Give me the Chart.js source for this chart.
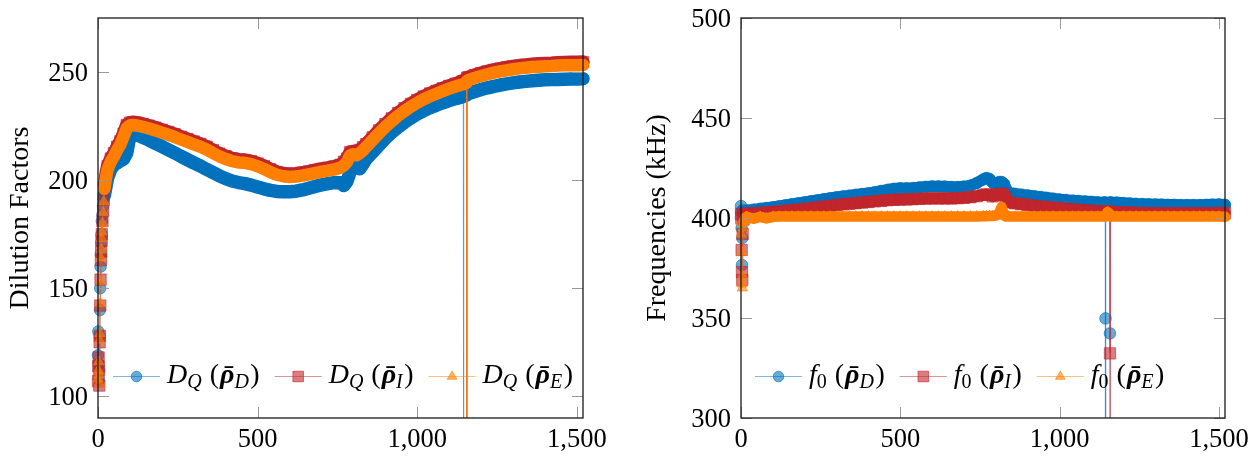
<!DOCTYPE html>
<html>
<head>
<meta charset="utf-8">
<script src="https://cdn.jsdelivr.net/npm/chart.js@4.4.1/dist/chart.umd.min.js"></script>
<style>
  html, body { margin: 0; padding: 0; background: #fff; }
  #wrap { position: relative; width: 1260px; height: 461px; overflow: hidden; }
  #left { position: absolute; left: 0; top: 0; }
  #right { position: absolute; left: 620px; top: 0; }
</style>
</head>
<body>
<div id="wrap">
  <canvas id="left" width="620" height="461"></canvas>
  <canvas id="right" width="640" height="461"></canvas>
</div>
<script>
// ---- left panel: dilution factors ----
const leftX = [
  0, 1, 2, 3, 4, 5, 6, 7, 8, 9,
  10, 11, 12, 14, 16, 18, 20, 25, 30, 40,
  50, 60, 70, 80, 90, 100, 110, 120, 140, 160,
  180, 200, 220, 240, 260, 280, 300, 320, 340, 360,
  380, 400, 420, 440, 460, 480, 500, 520, 540, 560,
  580, 600, 620, 640, 660, 680, 700, 720, 740, 760,
  770, 780, 790, 800, 810, 820, 830, 840, 860, 880,
  900, 920, 940, 960, 980, 1000, 1020, 1040, 1060, 1080,
  1100, 1120, 1140, 1144, 1145, 1146, 1150, 1154, 1155, 1156,
  1160, 1180, 1200, 1220, 1240, 1260, 1280, 1300, 1320, 1340,
  1360, 1380, 1400, 1420, 1440, 1460, 1480, 1500, 1519
];
const leftD = [
  119, 130, 115, 108, 112, 128, 140, 150, 160, 166,
  171, 175, 181, 184, 188, 191, 193, 197, 201, 205,
  207, 208, 209, 209.8, 212.5, 220.5, 221.6, 221.2, 219.8, 218.5,
  217, 215.6, 214.1, 212.6, 211, 209.5, 208, 206.6, 205, 203.5,
  202, 200.7, 199.6, 198.9, 198.4, 197.7, 196.8, 196, 195.3, 194.8,
  194.6, 194.6, 194.9, 195.5, 196.3, 197.1, 197.8, 198.4, 198.9, 198.8,
  197.5, 199.5, 204, 207.5, 207, 205.3, 207.5, 209.8, 213, 216.2,
  219.3, 222.1, 224.6, 226.8, 228.8, 230.6, 232.1, 233.5, 234.7, 235.8,
  236.8, 237.7, 238.5, 238.8, 0, 239, 239.2, 239.4, 239.5, 239.6,
  240, 241, 241.9, 242.7, 243.4, 244, 244.5, 245, 245.4, 245.7,
  246, 246.2, 246.4, 246.5, 246.6, 246.7, 246.8, 246.8, 246.9
];
const leftI = [
  107, 114, 118, 112, 105, 125, 128, 142, 154, 163,
  167, 172, 175, 181, 186, 191, 197.5, 202.5, 206.5, 210,
  212.5, 215.5, 218, 221.5, 225.5, 226.6, 226.8, 226.6, 226, 225.2,
  224.3, 223.3, 222.3, 221.3, 220.1, 219, 217.9, 216.8, 215.5, 213.9,
  212.3, 211.1, 210.1, 209.5, 209.3, 208.7, 207.7, 206.5, 205, 203.8,
  203.1, 202.8, 203, 203.4, 204, 204.6, 205.2, 205.7, 206.3, 207.1,
  208.5, 210, 213, 213.3, 213, 214, 215.2, 216.7, 219.8, 223,
  225.9, 228.6, 231.1, 233.3, 235.3, 237.1, 238.7, 240.1, 241.3, 242.5,
  243.6, 244.6, 245.5, 245.7, 245.8, 245.8, 246.1, 246.3, 0, 247.3,
  247.6, 248.6, 249.5, 250.3, 251, 251.6, 252.1, 252.6, 253, 253.3,
  253.6, 253.8, 254, 254.1, 254.3, 254.4, 254.5, 254.5, 254.6
];
const leftE = [
  108, 112, 116, 110, 106, 126, 129, 143, 153, 164,
  168, 173, 176, 180, 185, 190, 196, 201, 205, 208.5,
  211, 214, 216.5, 220, 224, 225.3, 225.5, 225.3, 224.7, 223.9,
  223, 222, 221, 220, 218.8, 217.7, 216.6, 215.5, 214.2, 212.6,
  211, 209.8, 208.8, 208.2, 208, 207.4, 206.4, 205.2, 203.7, 202.5,
  201.8, 201.5, 201.7, 202.1, 202.7, 203.3, 203.9, 204.4, 205, 205.8,
  206.8, 208.5, 211.5, 212, 211.5, 212.5, 213.8, 215.4, 218.5, 221.7,
  224.6, 227.3, 229.8, 232, 234, 235.8, 237.4, 238.8, 240, 241.2,
  242.3, 243.3, 244.2, 244.4, 244.5, 244.5, 244.8, 245, 0, 246,
  246.3, 247.3, 248.2, 249, 249.7, 250.3, 250.8, 251.3, 251.7, 252,
  252.3, 252.5, 252.7, 252.8, 253, 253.1, 253.2, 253.2, 253.3
];

// ---- right panel: frequencies (kHz) ----
const rightX = [
  0, 1, 2, 3, 4, 5, 6, 8, 10, 12,
  14, 16, 18, 20, 40, 60, 80, 100, 120, 140,
  160, 180, 200, 220, 240, 260, 280, 300, 320, 340,
  360, 380, 400, 420, 440, 460, 480, 500, 520, 540,
  560, 580, 600, 620, 640, 660, 680, 700, 720, 740,
  760, 770, 780, 790, 800, 810, 818, 826, 830, 840,
  860, 880, 900, 920, 940, 960, 980, 1000, 1020, 1040,
  1060, 1080, 1100, 1120, 1140, 1143, 1144, 1145, 1150, 1157,
  1158, 1159, 1160, 1180, 1200, 1220, 1240, 1260, 1280, 1300,
  1320, 1340, 1360, 1380, 1400, 1420, 1440, 1460, 1480, 1500,
  1519
];
const rightD = [
  406, 403, 395, 376.5, 390, 404, 402.5, 399, 401, 402.5,
  403, 403.5, 403.6, 403.8, 404.2, 404.6, 405, 405.4, 405.9, 406.4,
  406.9, 407.4, 407.9, 408.4, 408.9, 409.4, 409.9, 410.4, 410.8, 411.2,
  411.6, 412, 412.4, 412.9, 413.5, 414.1, 414.6, 414.9, 414.9, 415,
  415.3, 415.6, 415.8, 415.8, 415.7, 415.5, 415.5, 415.7, 416.2, 417.5,
  419.3, 420, 419.5, 417.6, 417, 418, 418, 417, 415, 412.6,
  412.1, 411.7, 411.3, 410.9, 410.5, 410.1, 409.7, 409.3, 409, 408.7,
  408.5, 408.3, 408.1, 407.9, 407.8, 407.8, 349.8, 0, 0, 0,
  342.3, 407.8, 407.8, 407.7, 407.5, 407.3, 407.1, 407, 406.9, 406.8,
  406.7, 406.6, 406.6, 406.5, 406.5, 406.5, 406.5, 406.6, 406.7, 406.8,
  406.6
];
const rightI = [
  402, 400, 384, 373, 369, 392, 401, 399.5, 401, 401.5,
  401.8, 402, 402, 402.1, 402.3, 402.5, 402.8, 403, 403.3, 403.6,
  403.9, 404.2, 404.6, 404.9, 405.3, 405.7, 406.1, 406.5, 406.8, 407.1,
  407.4, 407.7, 408, 408.3, 408.6, 408.9, 409.1, 409.2, 409.3, 409.4,
  409.6, 409.7, 409.8, 409.8, 409.8, 409.8, 409.9, 410.1, 410.4, 410.9,
  411.5, 411.8, 411.6, 410.8, 411.5, 412, 412, 411.5, 410, 407.8,
  407.3, 406.9, 406.5, 406.1, 405.8, 405.5, 405.2, 404.9, 404.6, 404.3,
  404, 403.8, 403.6, 403.4, 403.2, 403.2, 403.2, 403.2, 403.1, 403.1,
  332.3, 0, 403, 402.9, 402.8, 402.7, 402.6, 402.5, 402.5, 402.4,
  402.4, 402.4, 402.4, 402.4, 402.4, 402.4, 402.4, 402.4, 402.4, 402.5,
  402.5
];
const rightE = [
  398, 392, 383, 367, 365, 371, 395, 397.5, 399.5, 399,
  400.3, 399.5, 400.5, 400.5, 399.6, 400.6, 399.8, 400.6, 400.7, 400.7,
  400.7, 400.7, 400.7, 400.7, 400.7, 400.7, 400.7, 400.7, 400.7, 400.7,
  400.7, 400.7, 400.7, 400.7, 400.7, 400.7, 400.7, 400.7, 400.7, 400.7,
  400.7, 400.7, 400.7, 400.7, 400.7, 400.7, 400.8, 400.8, 400.8, 400.8,
  400.9, 400.9, 401, 401, 401.2, 402.5, 405.5, 401.5, 400.8, 400.7,
  400.7, 400.7, 400.7, 400.7, 400.7, 400.7, 400.7, 400.7, 400.7, 400.7,
  400.7, 400.7, 400.7, 400.7, 400.7, 400.7, 400.7, 400.8, 403, 402,
  401, 400.8, 400.7, 400.7, 400.7, 400.7, 400.7, 400.7, 400.7, 400.7,
  400.7, 400.7, 400.7, 400.7, 400.7, 400.7, 400.7, 400.7, 400.7, 400.7,
  400.6
];

// ticks and labels
const xTickValues = [0, 500, 1000, 1500];
const leftYTicks = [100, 150, 200, 250];
const rightYTicks = [300, 350, 400, 450, 500];
const leftTitle = "Dilution Factors";
const rightTitle = "Frequencies (kHz)";
const leftLegend = [["D", "Q", "D"], ["D", "Q", "I"], ["D", "Q", "E"]];
const rightLegend = [["f", "0", "D"], ["f", "0", "I"], ["f", "0", "E"]];

const BLUE = "0,114,189", RED = "193,39,45", ORANGE = "255,127,0";
const SERIF = '"Liberation Serif", "DejaVu Serif", serif';
const CLIP = { left: 12, right: 12, top: 0, bottom: 0 };

const pts = (xs, ys) => xs.map((x, i) => ({ x, y: ys[i] }));

// the dense marker swath, drawn as a wide line under the markers
function band(xs, ys, rgb, width, start, order) {
  return {
    data: pts(xs, ys),
    showLine: true,
    pointRadius: 0,
    borderWidth: width,
    borderColor: `rgb(${rgb})`,
    borderJoinStyle: "round",
    borderCapStyle: "round",
    segment: {
      borderColor: c => (c.p0.parsed.x >= start && Math.abs(c.p1.parsed.y - c.p0.parsed.y) < 15) ? undefined : "rgba(0,0,0,0)"
    },
    clip: CLIP,
    order
  };
}

function series(xs, ys, rgb, style, radius, legendRadius, order, legend) {
  return {
    legend,
    legendRadius,
    data: pts(xs, ys),
    showLine: true,
    borderWidth: 1,
    borderColor: `rgba(${rgb},0.5)`,
    pointStyle: style,
    pointRadius: radius,
    pointBackgroundColor: `rgba(${rgb},0.6)`,
    pointBorderColor: `rgba(${rgb},0.6)`,
    pointBorderWidth: 1,
    clip: CLIP,
    order
  };
}

function mathParts(l) {
  const sub = l[1] === "0" ? "20px " + SERIF : "italic 20px " + SERIF;
  return [
    { t: l[0], font: "italic 28px " + SERIF },
    { t: l[1], font: sub, dy: 5, gap: 8 },
    { t: "(", font: "28px " + SERIF, gap: 1 },
    { t: "\u03C1", font: "bold italic 28px " + SERIF, bar: 28 },
    { t: l[2], font: "italic 20px " + SERIF, dy: 5, gap: 1.5 },
    { t: ")", font: "28px " + SERIF }
  ];
}

function drawMath(ctx, parts, x, y) {
  parts.forEach(p => {
    ctx.font = p.font;
    ctx.fillText(p.t, x, y + (p.dy || 0));
    const w = ctx.measureText(p.t).width;
    if (p.bar) {
      ctx.fillRect(x + w * 0.32, y - p.bar * 0.6, w * 0.6, 1.8);
    }
    x += w + (p.gap || 0);
  });
  return x;
}

const frame = {
  id: "frame",
  afterDatasetsDraw(chart, args, o) {
    const { ctx, chartArea: a, scales: { x, y } } = chart;
    ctx.save();
    // inward ticks on all four sides
    ctx.strokeStyle = "#9a9a9a";
    ctx.lineWidth = 1;
    ctx.beginPath();
    o.xTicks.forEach(v => {
      const px = Math.round(x.getPixelForValue(v)) + 0.5;
      ctx.moveTo(px, a.bottom); ctx.lineTo(px, a.bottom - 11);
      ctx.moveTo(px, a.top); ctx.lineTo(px, a.top + 11);
    });
    o.yTicks.forEach(v => {
      const py = Math.round(y.getPixelForValue(v)) + 0.5;
      ctx.moveTo(a.left, py); ctx.lineTo(a.left + 11, py);
      ctx.moveTo(a.right, py); ctx.lineTo(a.right - 11, py);
    });
    ctx.stroke();
    // axis box
    ctx.strokeStyle = "#1a1a1a";
    ctx.lineWidth = 1.3;
    ctx.strokeRect(a.left, a.top, a.right - a.left, a.bottom - a.top);
    // tick labels
    ctx.fillStyle = "#000";
    ctx.font = "26.5px " + SERIF;
    ctx.textBaseline = "alphabetic";
    ctx.textAlign = "center";
    o.xTicks.forEach(v => ctx.fillText(v.toLocaleString("en-US"), x.getPixelForValue(v), a.bottom + 28.5));
    ctx.textAlign = "right";
    o.yTicks.forEach(v => ctx.fillText(String(v), a.left - 10, y.getPixelForValue(v) + 9));
    // y title
    ctx.save();
    ctx.translate(o.titleX, (a.top + a.bottom) / 2);
    ctx.rotate(-Math.PI / 2);
    ctx.textAlign = "center";
    ctx.font = "28px " + SERIF;
    ctx.fillText(o.title, 0, 0);
    ctx.restore();
    // legend
    ctx.textAlign = "left";
    let lx = o.legendX;
    const ly = o.legendY;
    chart.data.datasets.filter(d => d.legend).forEach(d => {
      ctx.strokeStyle = d.borderColor;
      ctx.lineWidth = 1;
      ctx.beginPath();
      ctx.moveTo(lx, ly + 0.5); ctx.lineTo(lx + 47, ly + 0.5);
      ctx.stroke();
      ctx.fillStyle = d.pointBackgroundColor;
      ctx.strokeStyle = d.pointBorderColor;
      Chart.helpers.drawPoint(ctx, { pointStyle: d.pointStyle, radius: d.legendRadius, borderWidth: 1, rotation: 0 }, lx + 23.5, ly + 0.5);
      ctx.fillStyle = "#000";
      lx = drawMath(ctx, mathParts(d.legend), lx + 54, ly + 7) + 15;
    });
    ctx.restore();
  }
};

function makeChart(id, xs, D, I, E, labels, yMin, yMax, yTicks, opts) {
  const bw = opts.bandWidth;
  return new Chart(document.getElementById(id), {
    type: "scatter",
    data: {
      datasets: [
        band(xs, D, BLUE, bw, opts.bandStart, 6),
        series(xs, D, BLUE, "circle", 5.8, 5.3, 5, labels[0]),
        band(xs, I, RED, bw, opts.bandStart, 4),
        series(xs, I, RED, "rect", 8, 7.5, 3, labels[1]),
        band(xs, E, ORANGE, bw - 1, opts.bandStart, 2),
        series(xs, E, ORANGE, "triangle", 6, 5.6, 1, labels[2])
      ]
    },
    options: {
      responsive: false,
      animation: false,
      events: [],
      layout: { padding: opts.padding },
      scales: {
        x: { type: "linear", min: 0, max: 1519, display: false },
        y: { type: "linear", min: yMin, max: yMax, display: false }
      },
      plugins: {
        legend: { display: false },
        tooltip: { enabled: false },
        frame: {
          xTicks: xTickValues, yTicks, title: opts.title, titleX: opts.titleX,
          legendX: opts.legendX, legendY: 376
        }
      }
    },
    plugins: [frame]
  });
}

makeChart("left", leftX, leftD, leftI, leftE, leftLegend, 90, 275, leftYTicks, {
  padding: { left: 98, right: 37, top: 18, bottom: 43 },
  bandStart: 20, bandWidth: 13.5, title: leftTitle, titleX: 28, legendX: 113
});
makeChart("right", rightX, rightD, rightI, rightE, rightLegend, 300, 500, rightYTicks, {
  padding: { left: 121, right: 35, top: 18, bottom: 43 },
  bandStart: 12, bandWidth: 11.5, title: rightTitle, titleX: 45, legendX: 135
});
</script>
</body>
</html>
